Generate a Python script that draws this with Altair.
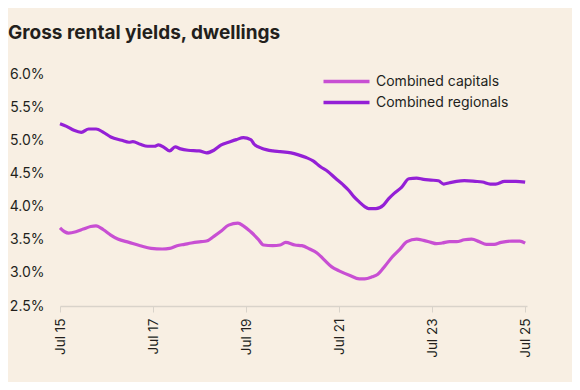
import altair as alt
import pandas as pd

# Months after Jul 2015 and yield (%)
cap_months = [0, 1.2, 2.2, 4.1, 6, 7.9, 9.3, 11.2, 13.1, 14.9, 17.8, 20.7, 23.5, 26.4, 28.3, 30.2,
              32.1, 33.9, 36.4, 37.8, 39.7, 41.6, 43.5, 45.9, 47.3, 49.2, 51.1, 52.5, 54.9, 56.8,
              58.2, 60.6, 62.4, 64.4, 66.3, 68.1, 70.1, 72, 74.8, 77.2, 78.6, 80.5, 82, 83.8,
              85.7, 87.6, 89.5, 92, 93.8, 95.7, 97.1, 98.6, 100.5, 102.3, 104.3, 106.2, 108.2,
              110, 112, 113.8, 116.6, 118.6, 120]
cap_values = [3.68, 3.62, 3.60, 3.62, 3.66, 3.70, 3.71, 3.65, 3.57, 3.51, 3.46, 3.41, 3.37, 3.36,
              3.37, 3.41, 3.43, 3.45, 3.47, 3.48, 3.55, 3.63, 3.72, 3.75, 3.71, 3.62, 3.51, 3.42,
              3.41, 3.42, 3.46, 3.42, 3.41, 3.36, 3.30, 3.20, 3.09, 3.03, 2.96, 2.91, 2.91, 2.94,
              2.98, 3.10, 3.24, 3.35, 3.47, 3.51, 3.49, 3.46, 3.44, 3.45, 3.47, 3.47, 3.50, 3.51,
              3.47, 3.43, 3.43, 3.46, 3.48, 3.48, 3.45]

reg_months = [0, 1.7, 3.6, 5.5, 7.4, 9.3, 11.2, 13.1, 15.9, 17.8, 18.8, 20.7, 22.6, 24.4, 25.4,
              26.9, 28.3, 29.7, 31.1, 33, 35.9, 37.8, 39.7, 41.6, 43.5, 45.5, 47.3, 49.2, 50.1,
              52, 54.9, 56.8, 59.6, 61.5, 63.5, 65.3, 67.2, 69.1, 71, 73, 74.4, 75.8, 77.2, 78.6,
              79.6, 81.5, 83.4, 84.8, 86.2, 88.1, 90, 92, 93.8, 95.7, 97.6, 99, 100.5, 102.3,
              104.3, 107.1, 109, 111, 112.4, 114.7, 117.6, 120]
reg_values = [5.25, 5.21, 5.15, 5.12, 5.17, 5.17, 5.12, 5.05, 5.00, 4.97, 4.98, 4.94, 4.91, 4.91,
              4.93, 4.89, 4.84, 4.90, 4.87, 4.85, 4.84, 4.81, 4.85, 4.93, 4.97, 5.01, 5.04, 5.01,
              4.94, 4.88, 4.84, 4.83, 4.81, 4.78, 4.74, 4.69, 4.60, 4.53, 4.43, 4.33, 4.25, 4.15,
              4.07, 4.00, 3.97, 3.97, 4.02, 4.12, 4.20, 4.29, 4.42, 4.43, 4.41, 4.40, 4.39, 4.34,
              4.36, 4.38, 4.39, 4.38, 4.37, 4.34, 4.34, 4.38, 4.38, 4.37]

series_names = ["Combined capitals", "Combined regionals"]
series_colors = ["#c84fd3", "#9420d6"]
y_ticks = [2.5, 3.0, 3.5, 4.0, 4.5, 5.0, 5.5, 6.0]
x_tick_dates = ["2015-07-01", "2017-07-01", "2019-07-01", "2021-07-01", "2023-07-01", "2025-07-01"]

start = pd.Timestamp("2015-07-01")


def to_dates(months):
    return [start + pd.Timedelta(days=m * 30.4375) for m in months]


df = pd.concat([
    pd.DataFrame({"date": to_dates(cap_months), "value": cap_values, "series": series_names[0]}),
    pd.DataFrame({"date": to_dates(reg_months), "value": reg_values, "series": series_names[1]}),
])

font = "Inter"
text_color = "#231f1c"
axis_gray = "#d9d3ca"

chart = alt.Chart(df).mark_line(strokeWidth=3.2, interpolate="monotone").encode(
    x=alt.X("date:T",
            scale=alt.Scale(domain=["2015-07-01", "2025-07-15"]),
            axis=alt.Axis(values=[pd.Timestamp(d).isoformat() for d in x_tick_dates],
                          format="%b %y", labelAngle=270, title=None, grid=False,
                          domainColor=axis_gray, domainWidth=1.5, tickColor=axis_gray,
                          tickSize=6, labelPadding=6, labelFontSize=13.5, labelColor=text_color,
                          labelFont=font)),
    y=alt.Y("value:Q",
            scale=alt.Scale(domain=[2.5, 6.0], nice=False, zero=False),
            axis=alt.Axis(values=y_ticks, labelExpr="format(datum.value, '.1f') + '%'",
                          title=None, grid=False, domain=False, ticks=False, labelPadding=16,
                          labelFontSize=14, labelColor=text_color, labelFont=font)),
    color=alt.Color("series:N",
                    scale=alt.Scale(domain=series_names, range=series_colors),
                    legend=alt.Legend(title=None, orient="none", legendX=273, legendY=-6,
                                      symbolType="M-2,0H2", symbolSize=529,
                                      symbolStrokeWidth=3.5, labelFontSize=14,
                                      labelColor=text_color, labelFont=font, labelOffset=16,
                                      rowPadding=0)),
).properties(
    width=467,
    height=232,
    background="#f8efe3",
    padding={"left": 52, "top": 66, "right": 45, "bottom": 76},
    autosize=alt.AutoSizeParams(type="none"),
    title=alt.TitleParams("Gross rental yields, dwellings", anchor="start", frame="group",
                          dx=-52, offset=24, fontSize=19, fontWeight="bold", font=font,
                          color=text_color),
).configure_view(stroke=None)

chart.save("out.html", embed_options={"renderer": "svg", "actions": False})
